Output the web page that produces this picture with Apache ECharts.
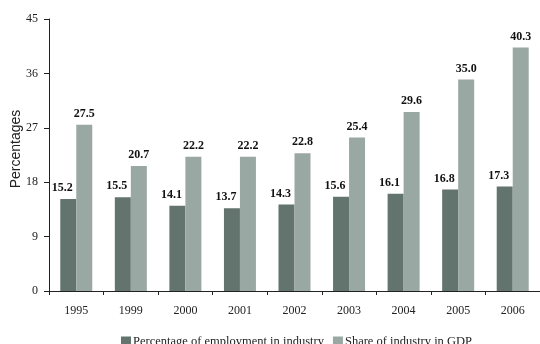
<!DOCTYPE html>
<html>
<head>
<meta charset="utf-8">
<script src="https://cdn.jsdelivr.net/npm/echarts@6/dist/echarts.min.js"></script>
<style>
  html, body { margin: 0; padding: 0; background: #fff; }
  #chart { width: 540px; height: 344px; }
</style>
</head>
<body>
<div id="chart"></div>
<script>
// Years on the category axis
const years = ['1995', '1999', '2000', '2001', '2002', '2003', '2004', '2005', '2006'];
// Percentage of employment in industry
const employmentShare = [15.2, 15.5, 14.1, 13.7, 14.3, 15.6, 16.1, 16.8, 17.3];
// Share of industry in GDP
const gdpShare = [27.5, 20.7, 22.2, 22.2, 22.8, 25.4, 29.6, 35.0, 40.3];
// Value axis ticks
const yTicks = [0, 9, 18, 27, 36, 45];

const serif = '"Liberation Serif", "DejaVu Serif", serif';
const axisColor = '#222';

function valueLabel(offsetX) {
  return {
    show: true,
    position: 'top',
    distance: 5,
    offset: [offsetX, 0],
    fontFamily: serif,
    fontWeight: 'bold',
    fontSize: 12,
    color: '#111',
    formatter: p => p.value.toFixed(1)
  };
}

const chart = echarts.init(document.getElementById('chart'));
chart.setOption({
  animation: false,
  backgroundColor: '#fff',
  grid: { left: 49, top: 19, width: 494, height: 272, containLabel: false },
  graphic: [{
    type: 'text',
    x: 16,
    y: 149,
    rotation: Math.PI / 2,
    style: {
      text: 'Percentages',
      fontFamily: '"Liberation Sans", Arial, sans-serif',
      fontSize: 14,
      fill: '#222',
      textAlign: 'center',
      textVerticalAlign: 'middle'
    }
  }],
  legend: {
    top: 330,
    left: 116,
    padding: 5,
    itemWidth: 10,
    itemHeight: 10,
    itemGap: 9,
    icon: 'rect',
    textStyle: { fontFamily: serif, fontSize: 12.5, color: '#222', padding: [0, 0, 0, -3] },
    data: ['Percentage of employment in industry', 'Share of industry in GDP']
  },
  xAxis: {
    type: 'category',
    data: years,
    axisLine: { lineStyle: { color: axisColor, width: 1 } },
    axisTick: { show: true, alignWithLabel: false, length: 4, lineStyle: { color: axisColor } },
    axisLabel: { fontFamily: serif, fontSize: 12, color: '#222', margin: 14 }
  },
  yAxis: {
    type: 'value',
    min: yTicks[0],
    max: yTicks[yTicks.length - 1],
    interval: 9,
    axisLine: { show: true, lineStyle: { color: axisColor, width: 1 } },
    axisTick: { show: true, length: 5, lineStyle: { color: axisColor } },
    axisLabel: { fontFamily: serif, fontSize: 12, color: '#222', margin: 11 },
    splitLine: { show: false }
  },
  series: [
    {
      name: 'Percentage of employment in industry',
      type: 'bar',
      data: employmentShare,
      barWidth: 16,
      barGap: '0%',
      itemStyle: { color: '#63736d' },
      label: valueLabel(-6)
    },
    {
      name: 'Share of industry in GDP',
      type: 'bar',
      data: gdpShare,
      barWidth: 16,
      barGap: '0%',
      itemStyle: { color: '#9aa8a3' },
      label: valueLabel(0)
    }
  ]
});
</script>
</body>
</html>
